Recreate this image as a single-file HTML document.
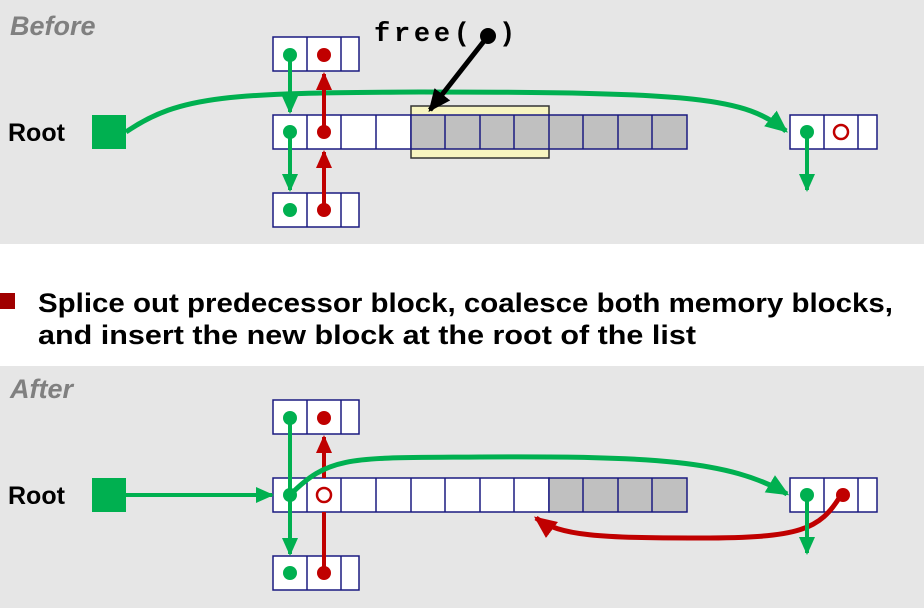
<!DOCTYPE html>
<html><head><meta charset="utf-8"><style>
html,body{margin:0;padding:0;background:#fff;width:924px;height:615px;overflow:hidden}
svg{display:block}
</style></head><body>
<svg width="924" height="615" viewBox="0 0 924 615" xmlns="http://www.w3.org/2000/svg" font-family="Liberation Sans, sans-serif">
<defs>
<marker id="g" markerWidth="4.5" markerHeight="4" refX="4" refY="2" orient="auto" markerUnits="strokeWidth"><path d="M0,0 L4.5,2 L0,4 z" fill="#00b050"/></marker>
<marker id="r" markerWidth="4.5" markerHeight="4" refX="4" refY="2" orient="auto" markerUnits="strokeWidth"><path d="M0,0 L4.5,2 L0,4 z" fill="#c00000"/></marker>
<marker id="k" markerWidth="4.5" markerHeight="4" refX="4" refY="2" orient="auto" markerUnits="strokeWidth"><path d="M0,0 L4.5,2 L0,4 z" fill="#000"/></marker>
</defs>
<rect x="0" y="0" width="924" height="244" fill="#e6e6e6"/>
<rect x="0" y="366" width="924" height="242" fill="#e6e6e6"/>
<text x="10" y="35" font-size="27" font-weight="bold" font-style="italic" fill="#808080">Before</text>
<text x="10" y="398" font-size="27" font-weight="bold" font-style="italic" fill="#808080">After</text>
<rect x="0" y="293" width="15" height="16" fill="#a00000"/>
<text x="38" y="312" font-size="27" font-weight="bold" textLength="855" lengthAdjust="spacingAndGlyphs">Splice out predecessor block, coalesce both memory blocks,</text>
<text x="38" y="344" font-size="27" font-weight="bold" textLength="658" lengthAdjust="spacingAndGlyphs">and insert the new block at the root of the list</text>

<!-- BEFORE -->
<text x="8" y="141" font-size="25" font-weight="bold">Root</text>
<rect x="92" y="115" width="34" height="34" fill="#00b050"/>
<rect x="411" y="106" width="138" height="52" fill="#f7f4c0" stroke="#333" stroke-width="1.5"/>
<g stroke="#1a1a80" stroke-width="1.5">
<rect x="273" y="37" width="86" height="34" fill="#fff"/>
<line x1="307" y1="37" x2="307" y2="71"/><line x1="341" y1="37" x2="341" y2="71"/>
<rect x="273" y="193" width="86" height="34" fill="#fff"/>
<line x1="307" y1="193" x2="307" y2="227"/><line x1="341" y1="193" x2="341" y2="227"/>
<rect x="273" y="115" width="138" height="34" fill="#fff"/>
<rect x="411" y="115" width="276" height="34" fill="#c0c0c0"/>
<line x1="307" y1="115" x2="307" y2="149"/><line x1="341" y1="115" x2="341" y2="149"/><line x1="376" y1="115" x2="376" y2="149"/>
<line x1="445" y1="115" x2="445" y2="149"/><line x1="480" y1="115" x2="480" y2="149"/><line x1="514" y1="115" x2="514" y2="149"/><line x1="549" y1="115" x2="549" y2="149"/><line x1="583" y1="115" x2="583" y2="149"/><line x1="618" y1="115" x2="618" y2="149"/><line x1="652" y1="115" x2="652" y2="149"/>
<rect x="790" y="115" width="87" height="34" fill="#fff"/>
<line x1="824" y1="115" x2="824" y2="149"/><line x1="858" y1="115" x2="858" y2="149"/>
</g>
<path d="M126,132 C180,95 230,93 420,92 C700,92 745,98 786,131" fill="none" stroke="#00b050" stroke-width="5" marker-end="url(#g)"/>
<line x1="290" y1="55" x2="290" y2="112" stroke="#00b050" stroke-width="4" marker-end="url(#g)"/>
<line x1="290" y1="132" x2="290" y2="190" stroke="#00b050" stroke-width="4" marker-end="url(#g)"/>
<line x1="324" y1="132" x2="324" y2="74" stroke="#c00000" stroke-width="4" marker-end="url(#r)"/>
<line x1="324" y1="210" x2="324" y2="152" stroke="#c00000" stroke-width="4" marker-end="url(#r)"/>
<circle cx="290" cy="55" r="7" fill="#00b050"/><circle cx="324" cy="55" r="7" fill="#c00000"/>
<circle cx="290" cy="132" r="7" fill="#00b050"/><circle cx="324" cy="132" r="7" fill="#c00000"/>
<circle cx="290" cy="210" r="7" fill="#00b050"/><circle cx="324" cy="210" r="7" fill="#c00000"/>
<line x1="807" y1="132" x2="807" y2="190" stroke="#00b050" stroke-width="4" marker-end="url(#g)"/>
<circle cx="807" cy="132" r="7" fill="#00b050"/>
<circle cx="841" cy="132" r="7" fill="none" stroke="#c00000" stroke-width="2.5"/>
<text x="374" y="41" font-family="Liberation Mono, monospace" font-size="27" font-weight="bold" textLength="96" lengthAdjust="spacing">free(</text><text x="499" y="41" font-family="Liberation Mono, monospace" font-size="27" font-weight="bold">)</text>
<line x1="488" y1="36" x2="430" y2="110" stroke="#000" stroke-width="5" marker-end="url(#k)"/>
<circle cx="488" cy="36" r="8" fill="#000"/>

<!-- AFTER -->
<text x="8" y="504" font-size="25" font-weight="bold">Root</text>
<rect x="92" y="478" width="34" height="34" fill="#00b050"/>
<g stroke="#1a1a80" stroke-width="1.5">
<rect x="273" y="400" width="86" height="34" fill="#fff"/>
<line x1="307" y1="400" x2="307" y2="434"/><line x1="341" y1="400" x2="341" y2="434"/>
<rect x="273" y="556" width="86" height="34" fill="#fff"/>
<line x1="307" y1="556" x2="307" y2="590"/><line x1="341" y1="556" x2="341" y2="590"/>
<rect x="273" y="478" width="276" height="34" fill="#fff"/>
<rect x="549" y="478" width="138" height="34" fill="#c0c0c0"/>
<line x1="307" y1="478" x2="307" y2="512"/><line x1="341" y1="478" x2="341" y2="512"/><line x1="376" y1="478" x2="376" y2="512"/><line x1="411" y1="478" x2="411" y2="512"/><line x1="445" y1="478" x2="445" y2="512"/><line x1="480" y1="478" x2="480" y2="512"/><line x1="514" y1="478" x2="514" y2="512"/><line x1="583" y1="478" x2="583" y2="512"/><line x1="618" y1="478" x2="618" y2="512"/><line x1="652" y1="478" x2="652" y2="512"/>
<rect x="790" y="478" width="87" height="34" fill="#fff"/>
<line x1="824" y1="478" x2="824" y2="512"/><line x1="858" y1="478" x2="858" y2="512"/>
</g>
<line x1="126" y1="495" x2="272" y2="495" stroke="#00b050" stroke-width="4" marker-end="url(#g)"/>
<line x1="290" y1="418" x2="290" y2="495" stroke="#00b050" stroke-width="4"/>
<line x1="290" y1="495" x2="290" y2="554" stroke="#00b050" stroke-width="4" marker-end="url(#g)"/>
<line x1="324" y1="574" x2="324" y2="512" stroke="#c00000" stroke-width="4"/>
<line x1="324" y1="478" x2="324" y2="437" stroke="#c00000" stroke-width="4" marker-end="url(#r)"/>
<path d="M290,495 C330,455 350,458 480,457 C650,456 730,460 787,494" fill="none" stroke="#00b050" stroke-width="5" marker-end="url(#g)"/>
<path d="M841,495 C820,530 800,538 700,538 C600,538 560,536 536,518" fill="none" stroke="#c00000" stroke-width="5" marker-end="url(#r)"/>
<circle cx="290" cy="418" r="7" fill="#00b050"/><circle cx="324" cy="418" r="7" fill="#c00000"/>
<circle cx="290" cy="495" r="7" fill="#00b050"/>
<circle cx="324" cy="495" r="7" fill="#fff" stroke="#c00000" stroke-width="2.5"/>
<circle cx="290" cy="573" r="7" fill="#00b050"/><circle cx="324" cy="573" r="7" fill="#c00000"/>
<line x1="807" y1="495" x2="807" y2="553" stroke="#00b050" stroke-width="4" marker-end="url(#g)"/>
<circle cx="807" cy="495" r="7" fill="#00b050"/>
<circle cx="843" cy="495" r="7" fill="#c00000"/>
</svg>
</body></html>
